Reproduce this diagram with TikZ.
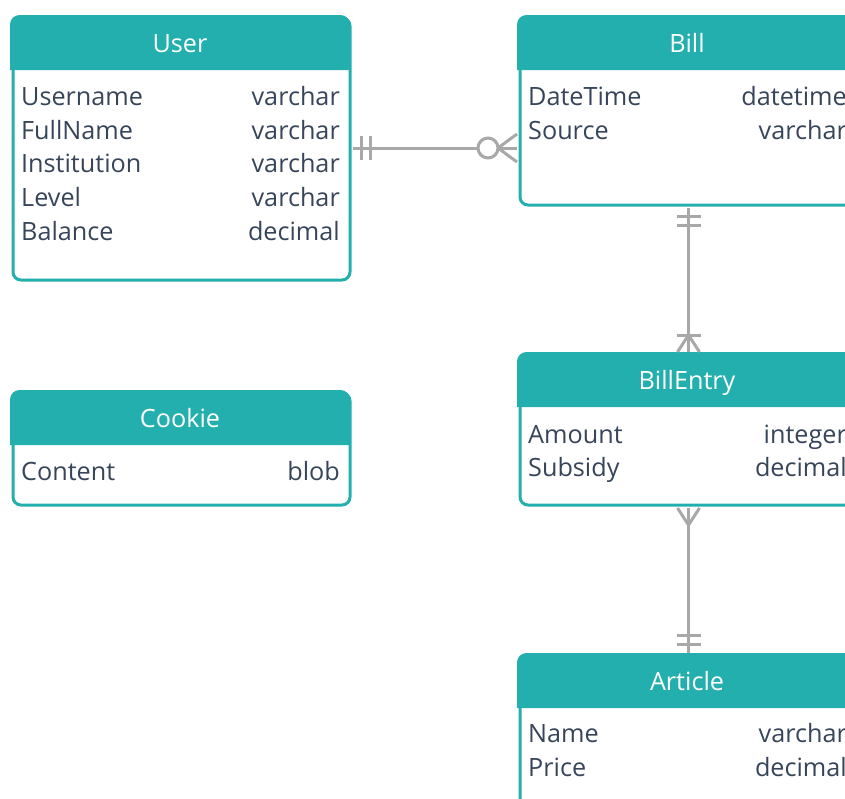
\documentclass[tikz,border=0pt]{standalone}
\usepackage{fontspec}
\setmainfont{Open Sans}
\definecolor{erteal}{RGB}{35,175,174}
\definecolor{ertext}{RGB}{55,69,90}
\definecolor{ergray}{RGB}{168,168,168}
\tikzset{
  erbody/.style={draw=erteal, line width=3pt, fill=white, rounded corners=8pt, rectangle, inner sep=0pt, minimum width=337pt},
  ertitle/.style={text=white, anchor=base, inner sep=0pt, font=\fontsize{25.2}{30}\selectfont},
  erleft/.style={text=ertext, anchor=base west, inner sep=0pt, font=\fontsize{25.2}{30}\selectfont},
  erright/.style={text=ertext, anchor=base east, inner sep=0pt, font=\fontsize{25.2}{30}\selectfont},
  conn/.style={draw=ergray, line width=3pt}
}
% #1 name, #2 left x, #3 top y, #4 bottom y, #5 title
\newcommand{\erbox}[5]{%
  \node[erbody, minimum height={#4-#3-3}, anchor=north west] (#1) at ({#2+1.5},{#3+1.5}) {};
  \fill[erteal] ({#2},{#3+55}) [rounded corners=9.5pt] -- ({#2},{#3}) -- ({#2+340},{#3}) [sharp corners] -- ({#2+340},{#3+55}) -- cycle;
  \node[ertitle] (#1-title) at ({#2+170},{#3+37}) {#5};
}
% #1 name, #2 left x, #3 baseline y, #4 left text, #5 right text
\newcommand{\errow}[5]{%
  \node[erleft] (#1-l) at ({#2+11},{#3}) {#4};
  \node[erright] (#1-r) at ({#2+330},{#3}) {#5};
}
\begin{document}
\begin{tikzpicture}[x=1pt,y=-1pt]
\useasboundingbox (0,0) rectangle (845,798);
\clip (0,0) rectangle (845,798);

% User
\erbox{user}{10}{15}{280}{User}
\errow{user1}{10}{105}{Username}{varchar}
\errow{user2}{10}{139}{FullName}{varchar}
\errow{user3}{10}{172}{Institution}{varchar}
\errow{user4}{10}{206}{Level}{varchar}
\errow{user5}{10}{240}{Balance}{decimal}

% Cookie
\erbox{cookie}{10}{390}{505}{Cookie}
\errow{cookie1}{10}{480}{Content}{blob}

% Bill
\erbox{bill}{517}{15}{205}{Bill}
\errow{bill1}{517}{105}{DateTime}{datetime}
\errow{bill2}{517}{139}{Source}{varchar}

% BillEntry
\erbox{entry}{517}{352}{505}{BillEntry}
\errow{entry1}{517}{443}{Amount}{integer}
\errow{entry2}{517}{476}{Subsidy}{decimal}

% Article
\erbox{article}{517}{653}{900}{Article}
\errow{article1}{517}{742}{Name}{varchar}
\errow{article2}{517}{776}{Price}{decimal}

% User -- Bill (one and only one  to  zero or many)
\coordinate (lvl) at (0,148);
\coordinate (ua) at ([xshift=1.5pt]user.east |- lvl);
\coordinate (bb) at ([xshift=-1.5pt]bill.west |- lvl);
\draw[conn] (ua) -- (bb);
\draw[conn] ([xshift=8pt]ua) ++(0,-12) -- ++(0,24);
\draw[conn] ([xshift=17pt]ua) ++(0,-12) -- ++(0,24);
\draw[conn] ([xshift=-19pt]bb) -- ++(19,-14);
\draw[conn] ([xshift=-19pt]bb) -- ++(19,14);
\draw[conn, fill=white] ([xshift=-29pt]bb) circle (10pt);

% Bill -- BillEntry (one and only one  to  one or many)
\coordinate (bs) at ([yshift=-1.5pt]bill.south);
\coordinate (en) at ([yshift=1.5pt]entry.north);
\draw[conn] (bs) -- (en);
\draw[conn] ([yshift=-8pt]bs) ++(-12,0) -- ++(24,0);
\draw[conn] ([yshift=-17pt]bs) ++(-12,0) -- ++(24,0);
\draw[conn] ([yshift=17pt]en) ++(-12,0) -- ++(24,0);
\draw[conn] ([yshift=17pt]en) -- ++(-11,17);
\draw[conn] ([yshift=17pt]en) -- ++(11,17);

% BillEntry -- Article (many  to  one and only one)
\coordinate (es) at ([yshift=-1.5pt]entry.south);
\coordinate (an) at ([yshift=1.5pt]article.north);
\draw[conn] (es) -- (an);
\draw[conn] ([yshift=-17pt]es) -- ++(-11,-17);
\draw[conn] ([yshift=-17pt]es) -- ++(11,-17);
\draw[conn] ([yshift=9pt]an) ++(-12,0) -- ++(24,0);
\draw[conn] ([yshift=18pt]an) ++(-12,0) -- ++(24,0);
\end{tikzpicture}
\end{document}
